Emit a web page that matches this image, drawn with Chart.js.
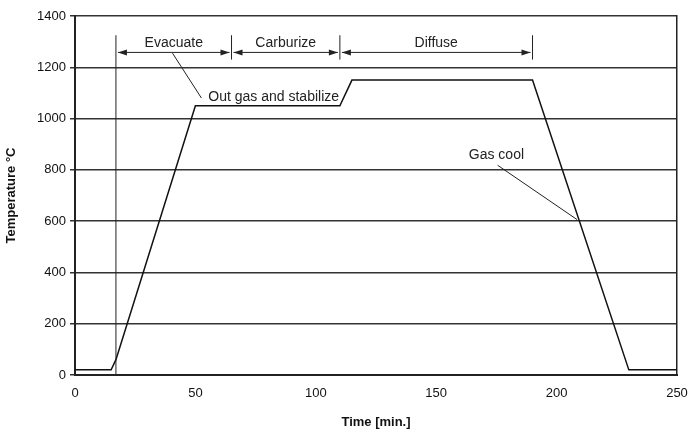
<!DOCTYPE html>
<html>
<head>
<meta charset="utf-8">
<script src="https://cdn.jsdelivr.net/npm/chart.js@4.4.1/dist/chart.umd.min.js"></script>
<style>
  html, body { margin: 0; padding: 0; background: #fff; }
  #wrap { width: 688px; height: 430px; }
</style>
</head>
<body>
<div id="wrap"><canvas id="chart" width="688" height="430"></canvas></div>
<script>
// temperature profile
const timeMin = [0, 15, 17, 50, 110, 115, 190, 230, 250];
const tempC = [20, 20, 60, 1050, 1050, 1150, 1150, 20, 20];

// phase bars on top
const phaseEdges = [17, 65, 110, 190];
const phaseNames = ["Evacuate", "Carburize", "Diffuse"];
const phaseArrowY = 1258;
const phaseTopY = 1325;

// callouts: text position and leader line (data units)
const notes = [
  { text: "Out gas and stabilize", x: 82.5, y: 1082, from: [40.5, 1255], to: [52.5, 1080] },
  { text: "Gas cool", x: 175, y: 858, from: [175.5, 818], to: [208.5, 606] }
];

const FONT = "'Liberation Sans', Arial, sans-serif";

const annotate = {
  id: "annotate",
  afterDatasetsDraw(chart) {
    const ctx = chart.ctx;
    const xs = chart.scales.x, ys = chart.scales.y;
    const px = v => xs.getPixelForValue(v);
    const py = v => ys.getPixelForValue(v);
    ctx.save();
    ctx.strokeStyle = "#222";
    ctx.fillStyle = "#222";
    ctx.lineWidth = 1;

    // vertical boundary lines
    phaseEdges.forEach((e, i) => {
      const bottom = i === 0 ? py(0) : py(1230);
      ctx.beginPath();
      ctx.moveTo(px(e), py(phaseTopY));
      ctx.lineTo(px(e), bottom);
      ctx.stroke();
    });

    // arrows and labels
    const ay = py(phaseArrowY);
    const head = (tipX, dir) => {
      ctx.beginPath();
      ctx.moveTo(tipX, ay);
      ctx.lineTo(tipX - dir * 9, ay - 3);
      ctx.lineTo(tipX - dir * 9, ay + 3);
      ctx.closePath();
      ctx.fill();
    };
    ctx.font = "14px " + FONT;
    ctx.textAlign = "center";
    ctx.textBaseline = "bottom";
    phaseNames.forEach((name, i) => {
      const a = px(phaseEdges[i]) + 2, b = px(phaseEdges[i + 1]) - 2;
      ctx.beginPath();
      ctx.moveTo(a, ay);
      ctx.lineTo(b, ay);
      ctx.stroke();
      head(a, -1);
      head(b, 1);
      ctx.fillText(name, (px(phaseEdges[i]) + px(phaseEdges[i + 1])) / 2, ay - 2);
    });

    // callouts
    ctx.textBaseline = "middle";
    notes.forEach(n => {
      ctx.beginPath();
      ctx.moveTo(px(n.from[0]), py(n.from[1]));
      ctx.lineTo(px(n.to[0]), py(n.to[1]));
      ctx.stroke();
      ctx.fillText(n.text, px(n.x), py(n.y));
    });
    ctx.restore();
  }
};

new Chart(document.getElementById("chart"), {
  type: "line",
  plugins: [annotate],
  data: {
    datasets: [{
      data: timeMin.map((t, i) => ({ x: t, y: tempC[i] })),
      borderColor: "#111",
      borderWidth: 1.5,
      pointRadius: 0,
      tension: 0,
      fill: false
    }]
  },
  options: {
    responsive: false,
    animation: false,
    layout: { padding: { top: 16, right: 11, bottom: 0, left: 0 } },
    plugins: { legend: { display: false }, tooltip: { enabled: false } },
    scales: {
      x: {
        type: "linear",
        min: 0,
        max: 250,
        ticks: { stepSize: 50, color: "#111", font: { family: FONT, size: 13 }, padding: 6, callback: v => String(v) },
        grid: { display: false, drawOnChartArea: false, drawTicks: true, tickLength: 5, color: "#222" },
        border: { color: "#222", width: 2 },
        title: { display: true, text: "Time [min.]", color: "#111", font: { family: FONT, size: 13, weight: "bold" }, padding: { top: 4, bottom: 0 } },
        afterFit(s) { s.height = 55; s.paddingRight = 0; s.paddingLeft = 0; }
      },
      y: {
        min: 0,
        max: 1400,
        ticks: { stepSize: 200, color: "#111", font: { family: FONT, size: 13 }, padding: 4, callback: v => String(v) },
        grid: { color: "#333", lineWidth: 1.5, tickLength: 5, drawTicks: true },
        border: { color: "#222", width: 2 },
        title: { display: true, text: "Temperature °C", color: "#111", font: { family: FONT, size: 13, weight: "bold" }, padding: { bottom: 2 } },
        afterFit(s) { s.width = 75; }
      },
      y2: {
        position: "right",
        min: 0,
        max: 1400,
        ticks: { display: false },
        grid: { display: false },
        border: { color: "#222", width: 1.5 },
        afterFit(s) { s.width = 0; }
      }
    }
  }
});
</script>
</body>
</html>
